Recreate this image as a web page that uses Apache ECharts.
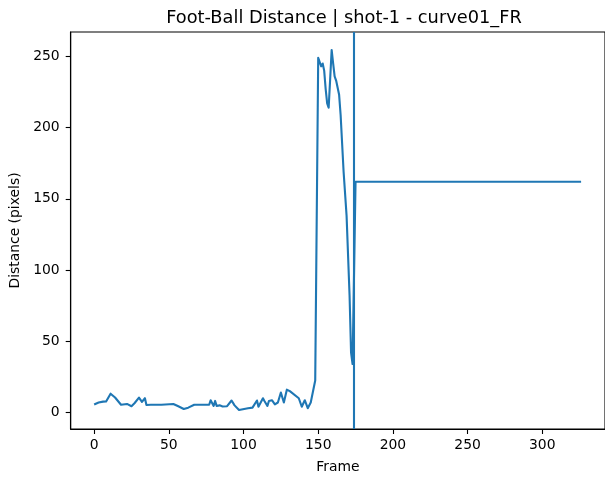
<!DOCTYPE html>
<html>
<head>
<meta charset="utf-8">
<script src="https://cdn.jsdelivr.net/npm/echarts@6/dist/echarts.min.js"></script>
<style>
html,body{margin:0;padding:0;background:#fff;}
#chart{width:605px;height:479px;}
</style>
</head>
<body>
<div id="chart"></div>
<script>
// Data
var frames = [0, 3, 6, 8, 9, 11, 14, 18, 22, 25, 27, 30, 32, 34, 35, 38, 45, 53, 56, 60, 63, 67,
  77, 78, 80, 81, 82, 84, 86, 89, 92, 94, 97, 103, 106, 109, 110, 113, 114, 116, 117, 119, 121,
  123, 125, 127, 129, 131, 137, 138, 139, 141, 142, 143, 145, 148,
  150, 151, 152, 153, 154, 155, 156, 157, 158, 159, 160, 161, 162, 164, 165, 167, 169, 171, 172, 173,
  175, 326];
var distances = [5.6, 7, 7.6, 7.7, 7, 13.2, 10.5, 5.4, 6, 4.4, 6.5, 10.4, 7.4, 10, 5.2, 5.4, 5.4, 6, 4.5, 2.4, 3.4, 5.4,
  5.4, 8.6, 4.6, 8.1, 4.6, 5, 4.2, 4.4, 8.4, 5, 1.7, 3, 3.4, 8.4, 4, 10, 8.1, 4.6, 8.1, 8.6, 5.7,
  7, 14, 7, 16, 15, 10, 8.6, 4, 8.6, 8.1, 3, 7, 22.5,
  249, 246, 243, 245, 240, 227, 217, 214, 234, 254.5, 245, 236, 233, 223, 209, 169, 138, 82, 42, 34,
  162, 162];
var shotFrame = 174;
var xTicks = [0, 50, 100, 150, 200, 250, 300];
var yTicks = [0, 50, 100, 150, 200, 250];
var titleText = 'Foot-Ball Distance | shot-1 - curve01_FR';
var xName = 'Frame';
var yName = 'Distance (pixels)';

var pts = frames.map(function (f, i) { return [f, distances[i]]; });
var FONT = 'DejaVu Sans';
var C = '#1f77b4';

var chart = echarts.init(document.getElementById('chart'), null, {renderer: 'canvas'});
chart.setOption({
  animation: false,
  backgroundColor: '#fff',
  title: {
    text: titleText,
    left: 339, top: 4, textAlign: 'center',
    textStyle: {fontFamily: FONT, fontSize: 17.8, fontWeight: 'normal', color: '#000'}
  },
  grid: {left: 70.7, top: 32, width: 537, height: 399.7, show: true, borderColor: '#000', borderWidth: 1.1, backgroundColor: 'transparent'},
  xAxis: {
    type: 'value', min: -15.7, max: 342,
    name: xName, nameLocation: 'middle', nameGap: 31,
    nameTextStyle: {fontFamily: FONT, fontSize: 13.9, color: '#000'},
    axisLine: {show: true, onZero: false, lineStyle: {color: '#000', width: 1.1}},
    axisTick: {show: true, length: 5, customValues: xTicks, lineStyle: {color: '#000', width: 1.1}},
    axisLabel: {customValues: xTicks, margin: 9.5, fontFamily: FONT, fontSize: 13.9, color: '#000'},
    splitLine: {show: false}
  },
  yAxis: {
    type: 'value', min: -11.6, max: 267.1,
    name: yName, nameLocation: 'middle', nameGap: 46, nameRotate: 90,
    nameTextStyle: {fontFamily: FONT, fontSize: 13.9, color: '#000'},
    axisLine: {show: true, onZero: false, lineStyle: {color: '#000', width: 1.1}},
    axisTick: {show: true, length: 5, customValues: yTicks, lineStyle: {color: '#000', width: 1.1}},
    axisLabel: {customValues: yTicks, margin: 11, fontFamily: FONT, fontSize: 13.9, color: '#000'},
    splitLine: {show: false}
  },
  series: [{
    type: 'line',
    data: pts,
    showSymbol: false,
    symbol: 'none',
    lineStyle: {color: C, width: 2.1, join: 'round', cap: 'butt'},
    itemStyle: {color: C},
    markLine: {
      silent: true, symbol: 'none',
      label: {show: false},
      lineStyle: {color: C, width: 2.1, type: 'solid'},
      data: [{xAxis: shotFrame}]
    }
  }]
});
</script>
</body>
</html>
